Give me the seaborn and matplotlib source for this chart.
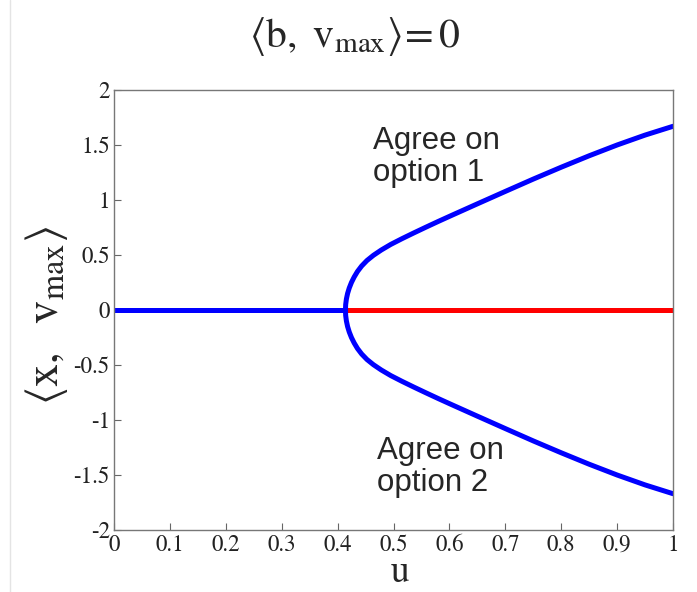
import matplotlib
matplotlib.use("Agg")
import matplotlib.pyplot as plt
from matplotlib.lines import Line2D
import seaborn as sns
import pandas as pd

# Control parameter u and the order parameter <x, v_max> on each branch
u_trivial_stable = [0.0, 0.414]
x_trivial_stable = [0.0, 0.0]

u_trivial_unstable = [0.414, 1.0]
x_trivial_unstable = [0.0, 0.0]

u_branch = [0.414, 0.4144, 0.4157, 0.4178, 0.4208, 0.4247, 0.4296, 0.4355,
            0.4430, 0.4525, 0.4640, 0.4780, 0.4950, 0.5150, 0.5360, 0.5580,
            0.5800, 0.6030, 0.6500, 0.7000, 0.7500, 0.8000, 0.8500, 0.9000,
            0.9500, 1.0]
x_option1 = [0.0, 0.05, 0.10, 0.15, 0.20, 0.25, 0.30, 0.35,
             0.40, 0.45, 0.497, 0.545, 0.596, 0.648, 0.700, 0.753,
             0.805, 0.858, 0.965, 1.078, 1.19, 1.298, 1.402, 1.50,
             1.59, 1.67]
x_option2 = [-0.0, -0.05, -0.10, -0.15, -0.20, -0.25, -0.30, -0.35,
             -0.40, -0.45, -0.497, -0.545, -0.596, -0.648, -0.700, -0.753,
             -0.805, -0.858, -0.965, -1.078, -1.19, -1.298, -1.402, -1.50,
             -1.59, -1.67]

y_ticks = [-2, -1.5, -1, -0.5, 0, 0.5, 1, 1.5, 2]
y_tick_labels = ["-2", "-1.5", "-1", "-0.5", "0", "0.5", "1", "1.5", "2"]
x_ticks = [0, 0.1, 0.2, 0.3, 0.4, 0.5, 0.6, 0.7, 0.8, 0.9, 1]
x_tick_labels = ["0", "0.1", "0.2", "0.3", "0.4", "0.5", "0.6", "0.7", "0.8", "0.9", "1"]

sns.set_style("white", {"xtick.direction": "in", "ytick.direction": "in"})
plt.rcParams["font.family"] = ["STIXGeneral", "DejaVu Serif"]
plt.rcParams["mathtext.fontset"] = "stix"

fig = plt.figure(figsize=(6.97, 5.92), dpi=100)
ax = fig.add_axes([0.1636, 0.1047, 0.8020, 0.7433])

lw = 3.6
sns.lineplot(data=pd.DataFrame({"u": u_trivial_unstable, "x": x_trivial_unstable}),
             x="u", y="x", ax=ax, color="#ff0000", linewidth=lw, sort=False,
             estimator=None)
sns.lineplot(data=pd.DataFrame({"u": u_trivial_stable, "x": x_trivial_stable}),
             x="u", y="x", ax=ax, color="#0000ff", linewidth=lw, sort=False,
             estimator=None)
sns.lineplot(data=pd.DataFrame({"u": u_branch, "x": x_option1}),
             x="u", y="x", ax=ax, color="#0000ff", linewidth=lw, sort=False,
             estimator=None)
sns.lineplot(data=pd.DataFrame({"u": u_branch, "x": x_option2}),
             x="u", y="x", ax=ax, color="#0000ff", linewidth=lw, sort=False,
             estimator=None)

ax.set_xlim(0, 1)
ax.set_ylim(-2, 2)
ax.set_xticks(x_ticks)
ax.set_xticklabels(x_tick_labels)
ax.set_yticks(y_ticks)
ax.set_yticklabels(y_tick_labels)
ax.tick_params(axis="both", which="both", direction="in", length=5, width=0.8,
               color="#666666", labelsize=16.5, labelcolor="#222222",
               bottom=True, left=True, top=False, right=False)
ax.tick_params(axis="x", pad=3)
ax.tick_params(axis="y", pad=3)
for sp in ax.spines.values():
    sp.set_color("#777777")
    sp.set_linewidth(1.0)

ax.set_xlabel("")
ax.set_ylabel("")
fig.text(400 / 697, 1 - 573 / 592, r"$\mathrm{u}$", fontsize=27,
         ha="center", va="center")
fig.text(47 / 697, 1 - 315 / 592,
         r"$\left\langle \mathrm{x,\ \ v_{max}} \right\rangle$",
         fontsize=33, rotation=90, ha="center", va="center")
fig.text(355 / 697, 1 - 37 / 592,
         r"$\left\langle \mathrm{b,\ v_{max}} \right\rangle\!\mathrm{=0}$",
         fontsize=30, ha="center", va="center")

ax.text(0.464, 1.39, "Agree on\noption 1", family=["Liberation Sans", "DejaVu Sans"],
        fontsize=22.5, ha="left", va="center", linespacing=1.1)
ax.text(0.471, -1.43, "Agree on\noption 2", family=["Liberation Sans", "DejaVu Sans"],
        fontsize=22.5, ha="left", va="center", linespacing=1.1)

fig.add_artist(Line2D([0.0145, 0.0145], [0.0, 1.0], transform=fig.transFigure,
                      color="#e4e4e4", linewidth=1.0))

fig.savefig("out.png", dpi=100, facecolor="white")
